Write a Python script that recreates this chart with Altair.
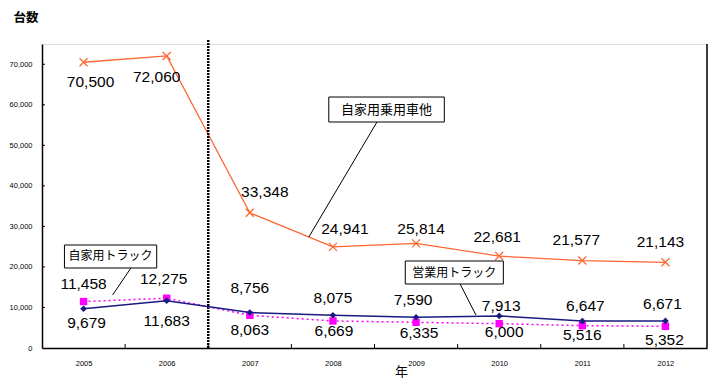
import altair as alt
import pandas as pd

# ---- data ----
years = [2005, 2006, 2007, 2008, 2009, 2010, 2011, 2012]
car_other = [70500, 72060, 33348, 24941, 25814, 22681, 21577, 21143]         # 自家用乗用車他
commercial_truck = [9679, 11683, 8756, 8075, 7590, 7913, 6647, 6671]         # 営業用トラック
private_truck = [11458, 12275, 8063, 6669, 6335, 6000, 5516, 5352]           # 自家用トラック

# value-label nudges (pixels) as placed in the reference
car_dx = [7, -10, 15, 12, 5, -2, -6, -5]
car_dy = [20, 21, -21, -18, -14, -19, -21, -20]
comm_dx = [3, 0, 0, 0, -3, 2, 3, -3]
comm_dy = [14, 20, -25, -17, -17, -10, -15, -17]
priv_dx = [0, -3, 0, 1, 3, 5, 0, -1]
priv_dy = [-18, -19, 15, 10, 11, 8, 9, 14]

y_tick_values = [0, 10000, 20000, 30000, 40000, 50000, 60000, 70000]
x_tick_between = [2005.5, 2006.5, 2007.5, 2008.5, 2009.5, 2010.5, 2011.5]
divider_at = [2006.5]

# callout annotations (data coordinates)
ann_text = ["自家用乗用車他", "自家用トラック", "営業用トラック"]
ann_font = [13, 12, 12]
box_x0 = [2007.95, 2004.77, 2008.87]
box_x1 = [2009.34, 2005.88, 2010.05]
box_y0 = [55760, 19740, 15790]
box_y1 = [61920, 25410, 21460]
lead_x0 = [2008.53, 2005.57, 2009.53]
lead_y0 = [55760, 19740, 15790]
lead_x1 = [2007.71, 2005.35, 2009.72]
lead_y1 = [27390, 13080, 8140]

W, H = 665, 304
X_DOMAIN = [2004.5, 2012.5]
Y_DOMAIN = [0, 75000]
NUM_FONT = "Liberation Sans"
JP_FONT = "Noto Sans CJK JP"

def series_df(vals, dx, dy, name):
    return pd.DataFrame({"year": years, "value": vals, "dx": dx, "dy": dy, "series": name})

df_car = series_df(car_other, car_dx, car_dy, "car")
df_comm = series_df(commercial_truck, comm_dx, comm_dy, "comm")
df_priv = series_df(private_truck, priv_dx, priv_dy, "priv")
df_all = pd.concat([df_car, df_comm, df_priv], ignore_index=True)

xscale = alt.Scale(domain=X_DOMAIN, nice=False, zero=False)
yscale = alt.Scale(domain=Y_DOMAIN, nice=False)

x_axis = alt.Axis(values=years, format="d", ticks=False, grid=False,
                  labelFontSize=7.5, labelFont=NUM_FONT, labelPadding=11,
                  labelColor="#000", domainColor="#000", domainWidth=1.5,
                  title="年", titleFont=JP_FONT, titleFontSize=13,
                  titleFontWeight="normal", titleX=359, titleY=17,
                  titleBaseline="top", titleAlign="center", titleColor="#000")
y_axis = alt.Axis(values=y_tick_values, format=",d", ticks=False, grid=False,
                  labelFontSize=7.5, labelFont=NUM_FONT, labelPadding=10,
                  labelColor="#000", domainColor="#000", domainWidth=1.5,
                  title="台数", titleFont=JP_FONT, titleFontSize=12.5,
                  titleFontWeight="bold", titleAngle=0, titleX=-29, titleY=-33,
                  titleBaseline="top", titleAlign="left", titleColor="#000")

def X(field):
    return alt.X(field, scale=xscale, axis=x_axis)

def Y(field):
    return alt.Y(field, scale=yscale, axis=y_axis)

ORANGE = "#FF6633"
NAVY = "#1A1A80"
MAGENTA = "#FF00FF"

cross_path = "M-1,-1L1,1M-1,1L1,-1"

car_line = alt.Chart(df_car).mark_line(color=ORANGE, strokeWidth=1.3).encode(x=X("year:Q"), y=Y("value:Q"))
car_pts = alt.Chart(df_car).mark_point(shape=cross_path, filled=False, stroke=ORANGE,
                                       strokeWidth=1.3, size=64, opacity=1).encode(x=X("year:Q"), y=Y("value:Q"))

priv_line = alt.Chart(df_priv).mark_line(color=MAGENTA, strokeWidth=1.5,
                                         strokeDash=[2, 3]).encode(x=X("year:Q"), y=Y("value:Q"))
priv_pts = alt.Chart(df_priv).mark_square(color=MAGENTA, size=55, opacity=1).encode(x=X("year:Q"), y=Y("value:Q"))

comm_line = alt.Chart(df_comm).mark_line(color=NAVY, strokeWidth=1.5).encode(x=X("year:Q"), y=Y("value:Q"))
comm_pts = alt.Chart(df_comm).mark_point(shape="diamond", filled=True, color=NAVY,
                                         size=45, opacity=1).encode(x=X("year:Q"), y=Y("value:Q"))

# label anchor = data point nudged by a few pixels (converted through the scale ratios)
px_x = (X_DOMAIN[1] - X_DOMAIN[0]) / W
px_y = (Y_DOMAIN[1] - Y_DOMAIN[0]) / H
value_labels = alt.Chart(df_all).transform_calculate(
    lx=f"datum.year + datum.dx * {px_x}",
    ly=f"datum.value - datum.dy * {px_y}",
).mark_text(
    font=NUM_FONT, fontSize=15.5, color="#000", baseline="middle", align="center"
).encode(
    x=X("lx:Q"), y=Y("ly:Q"),
    text=alt.Text("value:Q", format=","),
)

# divider line
div_df = pd.DataFrame({"x": divider_at})
divider = alt.Chart(div_df).mark_rule(color="#000", strokeWidth=2.5, strokeDash=[2, 1]).encode(
    x=X("x:Q"), y=alt.value(-4), y2=alt.value(H))

# right border
rb_df = pd.DataFrame({"x": [X_DOMAIN[1]]})
right_border = alt.Chart(rb_df).mark_rule(color="#000", strokeWidth=1.5).encode(
    x=X("x:Q"), y=alt.value(0), y2=alt.value(H))

# inward tick marks
xt_df = pd.DataFrame({"x": x_tick_between})
x_ticks = alt.Chart(xt_df).mark_rule(color="#000", strokeWidth=1).encode(
    x=X("x:Q"), y=alt.value(H - 4), y2=alt.value(H))
yt_df = pd.DataFrame({"v": y_tick_values[1:]})
y_ticks = alt.Chart(yt_df).mark_rule(color="#000", strokeWidth=1).encode(
    y=Y("v:Q"), x=alt.value(0), x2=alt.value(3))

# callouts
ann_df = pd.DataFrame({
    "text": ann_text, "fs": ann_font,
    "bx0": box_x0, "bx1": box_x1, "by0": box_y0, "by1": box_y1,
    "lx0": lead_x0, "ly0": lead_y0, "lx1": lead_x1, "ly1": lead_y1,
})
ann_df["cx"] = (ann_df["bx0"] + ann_df["bx1"]) / 2
ann_df["cy"] = (ann_df["by0"] + ann_df["by1"]) / 2

leaders = alt.Chart(ann_df).mark_rule(color="#000", strokeWidth=1).encode(
    x=X("lx0:Q"), x2="lx1:Q", y=Y("ly0:Q"), y2="ly1:Q")
boxes = alt.Chart(ann_df).mark_rect(fill="#fff", stroke="#000", strokeWidth=1).encode(
    x=X("bx0:Q"), x2="bx1:Q", y=Y("by0:Q"), y2="by1:Q")
ann_big = alt.Chart(ann_df).transform_filter(alt.datum.fs == 13).mark_text(
    font=JP_FONT, fontSize=13, color="#000", baseline="middle", align="center").encode(
    x=X("cx:Q"), y=Y("cy:Q"), text="text:N")
ann_small = alt.Chart(ann_df).transform_filter(alt.datum.fs == 12).mark_text(
    font=JP_FONT, fontSize=12, color="#000", baseline="middle", align="center").encode(
    x=X("cx:Q"), y=Y("cy:Q"), text="text:N")

chart = alt.layer(
    car_line, divider, right_border, x_ticks, y_ticks,
    car_pts, priv_line, priv_pts, comm_line, comm_pts,
    value_labels, leaders, boxes, ann_big, ann_small,
).properties(
    width=W, height=H,
    autosize=alt.AutoSizeParams(type="none"),
    padding={"left": 34, "top": 36, "right": 4, "bottom": 32},
).configure_view(
    stroke="#808080", strokeWidth=1
).configure(background="#ffffff")

chart.save("out.html", embed_options={"renderer": "svg", "actions": False})
